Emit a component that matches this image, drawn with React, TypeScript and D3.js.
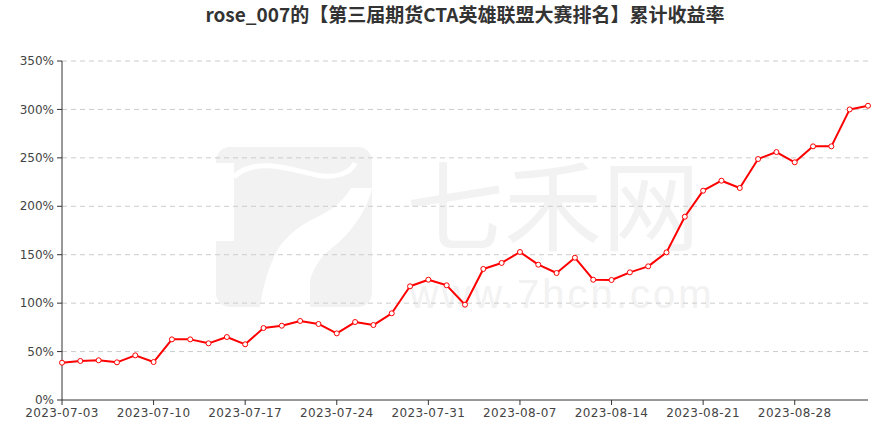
import React, { useEffect } from "react";
import * as d3 from "d3";

// trading days (weekdays) 2023-07-03 .. 2023-09-01
const dates: string[] = [
  "2023-07-03", "2023-07-04", "2023-07-05", "2023-07-06", "2023-07-07",
  "2023-07-10", "2023-07-11", "2023-07-12", "2023-07-13", "2023-07-14",
  "2023-07-17", "2023-07-18", "2023-07-19", "2023-07-20", "2023-07-21",
  "2023-07-24", "2023-07-25", "2023-07-26", "2023-07-27", "2023-07-28",
  "2023-07-31", "2023-08-01", "2023-08-02", "2023-08-03", "2023-08-04",
  "2023-08-07", "2023-08-08", "2023-08-09", "2023-08-10", "2023-08-11",
  "2023-08-14", "2023-08-15", "2023-08-16", "2023-08-17", "2023-08-18",
  "2023-08-21", "2023-08-22", "2023-08-23", "2023-08-24", "2023-08-25",
  "2023-08-28", "2023-08-29", "2023-08-30", "2023-08-31", "2023-09-01",
];

// cumulative return, %
const returns: number[] = [
  38.5, 40.3, 41.0, 38.9, 46.1,
  39.2, 62.6, 62.6, 58.5, 65.0,
  57.5, 74.3, 76.7, 81.6, 78.5,
  68.8, 80.5, 77.4, 89.5, 117.4,
  124.2, 118.4, 98.4, 135.3, 141.5,
  152.8, 139.7, 131.1, 146.9, 124.2,
  123.9, 131.8, 138.0, 152.4, 189.2,
  216.1, 226.4, 218.9, 248.8, 256.0,
  245.4, 261.9, 261.9, 300.0, 303.8,
];

const yTicks: number[] = [0, 50, 100, 150, 200, 250, 300, 350];
const xLabelEvery = 5;

const title = "rose_007的【第三届期货CTA英雄联盟大赛排名】累计收益率";

const W = 876;
const H = 427;
const margin = { left: 62, right: 8, top: 61, bottom: 27 };

function Watermark() {
  // faint 七禾网 logo behind the plot
  const c = "#f2f2f2";
  return (
    <g pointerEvents="none">
      <g transform="translate(216,147)">
        <rect x={0} y={0} width={156} height={160} rx={14} fill={c} />
        {/* left notch */}
        <path d="M0,16 L18,16 L18,94 L0,94 Z" fill="#fff" />
        {/* thin curve under the top bar */}
        <path
          d="M18,30 C40,8 80,24 100,28 C120,32 135,26 139,16"
          fill="none"
          stroke="#fff"
          strokeWidth={5}
        />
        {/* the big swoosh of the 7 */}
        <path
          d="M135,41 C125,58 110,66 97,72 C78,82 64,95 58,110 C50,128 46,145 44,160 L94,160 L94,134 C98,118 108,106 121,97 C140,80 152,60 156,41 Z"
          fill="#fff"
        />
      </g>
      <text
        x={553}
        y={243}
        textAnchor="middle"
        fontFamily="'Noto Sans CJK SC', sans-serif"
        fontSize={98}
        fill={c}
      >
        七禾网
      </text>
      <text
        x={562}
        y={308}
        textAnchor="middle"
        fontFamily="'Liberation Sans', sans-serif"
        fontSize={40}
        letterSpacing={3}
        fill={c}
      >
        www.7hcn.com
      </text>
    </g>
  );
}

export default function App() {
  useEffect(() => {
    document.body.style.margin = "0";
  }, []);

  const x = d3
    .scalePoint<string>()
    .domain(dates)
    .range([margin.left, W - margin.right]);

  const y = d3
    .scaleLinear()
    .domain([0, 350])
    .range([H - margin.bottom, margin.top]);

  const line = d3
    .line<number>()
    .x((_, i) => x(dates[i]) as number)
    .y((d) => y(d));

  const axisFont = "'DejaVu Sans', sans-serif";
  const x0 = margin.left;
  const x1 = W - margin.right;
  const yBase = H - margin.bottom;

  return (
    <svg width={W} height={H} style={{ display: "block", background: "#fff" }}>
      <Watermark />

      <text
        x={465}
        y={22}
        textAnchor="middle"
        fontFamily="'Noto Sans CJK SC', sans-serif"
        fontWeight="bold"
        fontSize={19}
        fill="#333"
      >
        {title}
      </text>

      {/* grid + y labels */}
      <g>
        {yTicks.map((t) => (
          <g key={t}>
            {t > 0 && (
              <line
                x1={x0}
                x2={x1}
                y1={y(t)}
                y2={y(t)}
                stroke="#ccc"
                strokeDasharray="5,4"
              />
            )}
            <line x1={x0 - 5} x2={x0} y1={y(t)} y2={y(t)} stroke="#333" />
            <text
              x={x0 - 8}
              y={y(t)}
              dy="0.35em"
              textAnchor="end"
              fontFamily={axisFont}
              fontSize={12}
              fill="#444"
            >
              {t}%
            </text>
          </g>
        ))}
      </g>

      {/* axes lines */}
      <line x1={x0} x2={x0} y1={margin.top} y2={yBase} stroke="#333" />
      <line x1={x0} x2={x1} y1={yBase} y2={yBase} stroke="#333" />

      {/* x ticks + labels */}
      <g>
        {dates.map((d, i) =>
          i % xLabelEvery === 0 ? (
            <g key={d}>
              <line
                x1={x(d)}
                x2={x(d)}
                y1={yBase}
                y2={yBase + 5}
                stroke="#333"
              />
              <text
                x={x(d)}
                y={yBase + 17}
                textAnchor="middle"
                fontFamily={axisFont}
                fontSize={12}
                letterSpacing={0.4}
                fill="#444"
              >
                {d}
              </text>
            </g>
          ) : null
        )}
      </g>

      {/* series */}
      <path
        d={line(returns) || ""}
        fill="none"
        stroke="#ff0000"
        strokeWidth={2}
        strokeLinejoin="round"
      />
      <g>
        {returns.map((v, i) => (
          <circle
            key={dates[i]}
            cx={x(dates[i])}
            cy={y(v)}
            r={2.5}
            fill="#fff"
            stroke="#ff0000"
            strokeWidth={1}
          />
        ))}
      </g>
    </svg>
  );
}
